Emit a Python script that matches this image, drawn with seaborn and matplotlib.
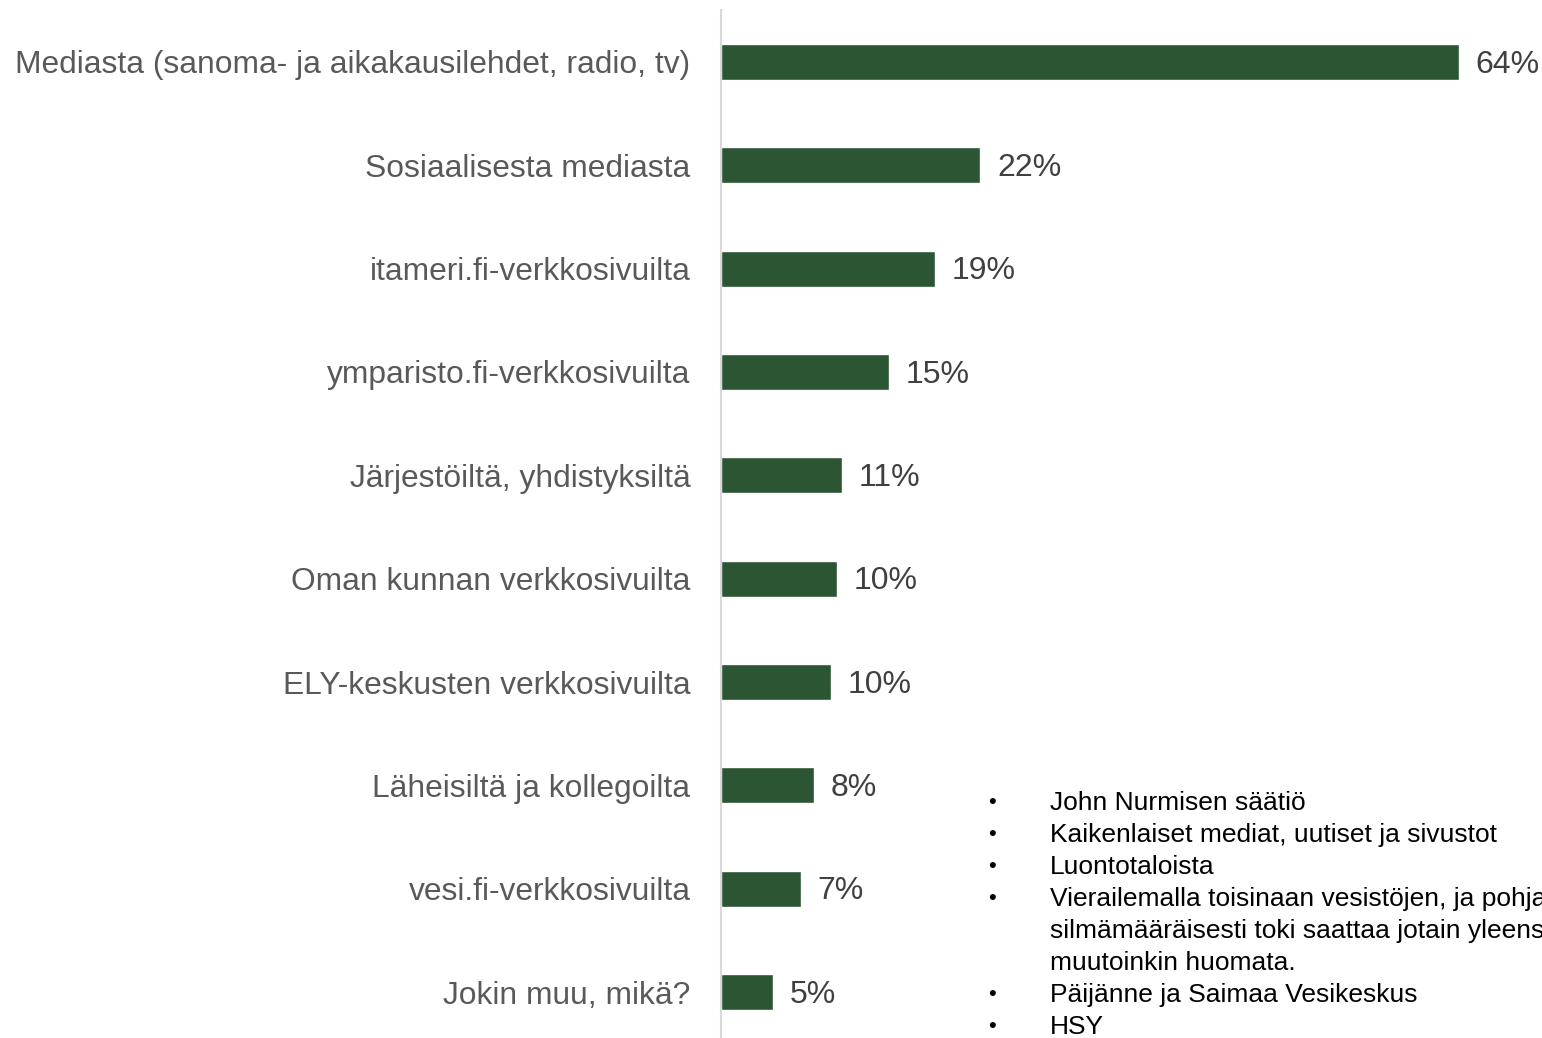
import matplotlib
matplotlib.use("Agg")
import matplotlib.pyplot as plt
import seaborn as sns
import pandas as pd

categories = [
    "Mediasta (sanoma- ja aikakausilehdet, radio, tv)",
    "Sosiaalisesta mediasta",
    "itameri.fi-verkkosivuilta",
    "ymparisto.fi-verkkosivuilta",
    "Järjestöiltä, yhdistyksiltä",
    "Oman kunnan verkkosivuilta",
    "ELY-keskusten verkkosivuilta",
    "Läheisiltä ja kollegoilta",
    "vesi.fi-verkkosivuilta",
    "Jokin muu, mikä?",
]
values = [64.0, 22.5, 18.6, 14.6, 10.5, 10.1, 9.5, 8.1, 6.9, 4.5]
value_labels = ["64%", "22%", "19%", "15%", "11%", "10%", "10%", "8%", "7%", "5%"]
other_answers = [
    "John Nurmisen säätiö",
    "Kaikenlaiset mediat, uutiset ja sivustot",
    "Luontotaloista",
    "Vierailemalla toisinaan vesistöjen, ja pohjavesien",
    "silmämääräisesti toki saattaa jotain yleensäkin",
    "muutoinkin huomata.",
    "Päijänne ja Saimaa Vesikeskus",
    "HSY",
]
bullet_flags = [True, True, True, True, False, False, True, True]

df = pd.DataFrame({"cat": categories, "val": values})

sns.set_style("white")
plt.rcParams["font.family"] = ["Liberation Sans", "DejaVu Sans"]

W, H = 1542, 1038
fig = plt.figure(figsize=(W / 100, H / 100), dpi=100)
top_px = 10.3
bottom_px = 1043.7
ax = fig.add_axes([721 / W, (H - bottom_px) / H, (W - 721) / W, (bottom_px - top_px) / H])

sns.barplot(data=df, x="val", y="cat", orient="h", color="#2c5534",
            width=0.35, ax=ax, saturation=1)
ax.set_xlim(0, (W - 721) / 11.53)
ax.set_ylim(len(categories) - 0.5, -0.5)

for s in ["top", "right", "bottom"]:
    ax.spines[s].set_visible(False)
ax.spines["left"].set_color("#d9d9d9")
ax.spines["left"].set_linewidth(1.5)
ax.set_xticks([])
ax.set_xlabel("")
ax.set_ylabel("")
ax.tick_params(axis="y", length=0, pad=22, labelsize=22.9, labelcolor="#595959")

for i, (v, lab) in enumerate(zip(values, value_labels)):
    ax.annotate(lab, xy=(v, i), xytext=(12, -2), textcoords="offset points",
                va="center", ha="left", fontsize=23, color="#404040")

y0 = 803
for k, (txt, b) in enumerate(zip(other_answers, bullet_flags)):
    yy = 1 - (y0 + 32 * k) / H
    if b:
        fig.text(988 / W, yy, "•", fontsize=16, color="#000000", va="center", ha="left")
    fig.text(1050 / W, yy, txt, fontsize=19, color="#000000", va="center", ha="left")

fig.savefig("out.png", dpi=100)
